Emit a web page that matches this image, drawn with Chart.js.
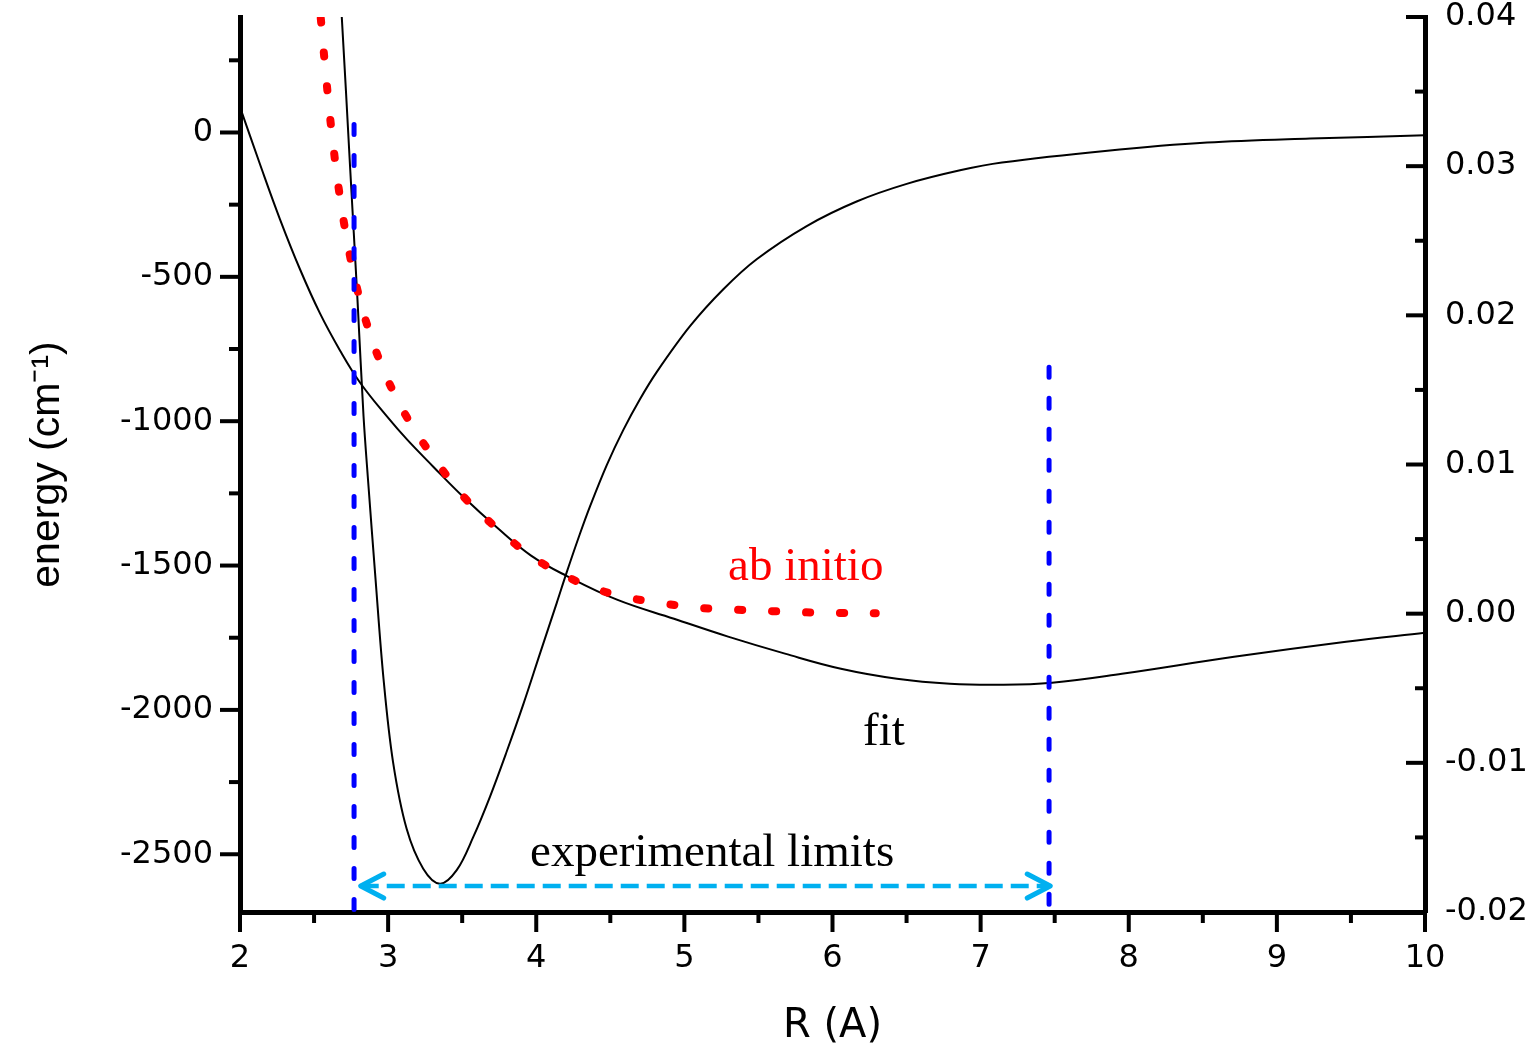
<!DOCTYPE html>
<html>
<head>
<meta charset="utf-8">
<script src="https://cdn.jsdelivr.net/npm/chart.js@4.4.0/dist/chart.umd.min.js"></script>
<style>
    html, body { margin: 0; padding: 0; background: #fff; }
    canvas { display: block; }
</style>
</head>
<body>
<canvas id="grafico-energia" width="1536" height="1048"></canvas>
<script>
// curva "fit" (poco profundo), eixo da esquerda, cm-1
const rAjuste = [2.672, 2.687, 2.743, 2.793, 2.834, 2.864, 2.915, 2.969, 3.033, 3.125, 3.237, 3.350, 3.463, 3.575, 3.688, 3.800, 3.913, 4.025, 4.138, 4.206, 4.295, 4.363, 4.476, 4.588, 4.700, 4.813, 5.038, 5.263, 5.488, 5.826, 6.163, 6.501, 6.861, 7.144, 7.840, 8.529, 9.224, 10.0];
const eAjuste = [495, 401, -118, -578, -983, -1201, -1547, -1893, -2180, -2412, -2550, -2602, -2555, -2440, -2300, -2145, -1980, -1805, -1630, -1523, -1390, -1295, -1152, -1030, -924, -830, -671, -543, -439, -324, -239, -178, -131, -104, -64, -35, -21, -10];

// segunda curva preta, eixo da direita
const rSegunda = [2.000, 2.135, 2.270, 2.405, 2.540, 2.675, 2.810, 2.992, 3.127, 3.303, 3.505, 3.735, 3.965, 4.201, 4.545, 4.930, 5.295, 5.679, 6.057, 6.435, 6.793, 7.131, 7.482, 7.954, 8.711, 9.467, 10.0];
const vSegunda = [0.03396, 0.03013, 0.02644, 0.02309, 0.02013, 0.01765, 0.01550, 0.01322, 0.01168, 0.00987, 0.00785, 0.00577, 0.00389, 0.00255, 0.00094, -0.00034, -0.00154, -0.00268, -0.00369, -0.00436, -0.00470, -0.00477, -0.00463, -0.00403, -0.00289, -0.00188, -0.00128];

// ab initio (pontilhado vermelho)
const rAbInitio = [2.535, 2.545, 2.564, 2.586, 2.609, 2.635, 2.665, 2.700, 2.742, 2.793, 2.855, 2.935, 3.038, 3.166, 3.323, 3.503, 3.733, 3.963, 4.194, 4.422, 4.651, 4.881, 5.119, 5.355, 5.586, 5.814, 6.049, 6.292];
const eAbInitio = [440, 397, 287, 166, 48, -69, -189, -307, -426, -546, -661, -780, -901, -1020, -1137, -1258, -1370, -1466, -1535, -1584, -1614, -1633, -1647, -1653, -1658, -1662, -1664, -1665];

// limites experimentais (linhas azuis verticais)
const rLimites = [2.77, 7.462];
const eTopoLimites = [28, -813];
const eBaseLimites = -2700;

// seta dupla
const rSeta = [2.815, 7.47];
const eSeta = [-2610, -2610];

// marcas dos eixos
const marcasX = [2, 3, 4, 5, 6, 7, 8, 9, 10];
const marcasXMenores = [2.5, 3.5, 4.5, 5.5, 6.5, 7.5, 8.5, 9.5];
const marcasY = [0, -500, -1000, -1500, -2000, -2500];
const marcasYMenores = [250, -250, -750, -1250, -1750, -2250];
const marcasY2 = [-0.02, -0.01, 0.00, 0.01, 0.02, 0.03, 0.04];
const marcasY2Menores = [-0.015, -0.005, 0.005, 0.015, 0.025, 0.035];

const rotulos = [
    { texto: 'ab initio', r: 5.295, e: -1550, cor: '#ff0000' },
    { texto: 'fit', r: 6.206, e: -2121, cor: '#000000' },
    { texto: 'experimental limits', r: 3.958, e: -2540, cor: '#000000' }
];

const paraPontos = (xs, ys) => xs.map((x, i) => ({ x: x, y: ys[i] }));

const fonteMarcas = { family: 'DejaVu Sans', size: 32 };

const pluginMarcas = {
    id: 'marcasEixos',
    afterDatasetsDraw(chart) {
        const { ctx, scales } = chart;
        ctx.save();
        rotulos.forEach(rotulo => {
            ctx.font = '47px "Liberation Serif"';
            ctx.fillStyle = rotulo.cor;
            ctx.textAlign = 'left';
            ctx.textBaseline = 'alphabetic';
            ctx.fillText(rotulo.texto, scales.x.getPixelForValue(rotulo.r), scales.y.getPixelForValue(rotulo.e));
        });

        // pontas da seta
        const meta = chart.getDatasetMeta(0);
        const inicio = meta.data[0];
        const fim = meta.data[meta.data.length - 1];
        ctx.strokeStyle = '#00b0f0';
        ctx.lineWidth = 5;
        ctx.lineCap = 'round';
        ctx.lineJoin = 'round';
        ctx.beginPath();
        ctx.moveTo(inicio.x + 23, inicio.y - 12);
        ctx.lineTo(inicio.x, inicio.y);
        ctx.lineTo(inicio.x + 23, inicio.y + 12);
        ctx.moveTo(fim.x - 23, fim.y - 12);
        ctx.lineTo(fim.x, fim.y);
        ctx.lineTo(fim.x - 23, fim.y + 12);
        ctx.stroke();
        ctx.restore();
    },
    afterDraw(chart) {
        const { ctx, chartArea: area, scales } = chart;
        ctx.save();
        ctx.strokeStyle = '#000';
        ctx.lineWidth = 4;
        ctx.lineCap = 'butt';
        const tracar = (x1, y1, x2, y2) => {
            ctx.beginPath();
            ctx.moveTo(x1, y1);
            ctx.lineTo(x2, y2);
            ctx.stroke();
        };
        marcasX.forEach(v => { const p = scales.x.getPixelForValue(v); tracar(p, area.bottom, p, area.bottom + 20); });
        marcasXMenores.forEach(v => { const p = scales.x.getPixelForValue(v); tracar(p, area.bottom, p, area.bottom + 11); });
        marcasY.forEach(v => { const p = scales.y.getPixelForValue(v); tracar(area.left, p, area.left - 20, p); });
        marcasYMenores.forEach(v => { const p = scales.y.getPixelForValue(v); tracar(area.left, p, area.left - 11, p); });
        marcasY2.forEach(v => { const p = scales.y2.getPixelForValue(v); tracar(area.right, p, area.right - 19, p); });
        marcasY2Menores.forEach(v => { const p = scales.y2.getPixelForValue(v); tracar(area.right, p, area.right - 10, p); });
        ctx.restore();
    }
};

const ctxEnergia = document.getElementById('grafico-energia').getContext('2d');

const graficoEnergia = new Chart(ctxEnergia, {
    type: 'line',
    data: {
        datasets: [{
            label: 'limites',
            data: paraPontos(rSeta, eSeta),
            borderColor: '#00b0f0',
            borderWidth: 4.5,
            borderDash: [18, 8],
            pointRadius: 0,
            yAxisID: 'y'
        }, {
            label: 'limite inferior',
            data: paraPontos([rLimites[0], rLimites[0]], [eTopoLimites[0], eBaseLimites]),
            borderColor: '#0000ff',
            borderWidth: 5,
            borderDash: [10, 21],
            borderCapStyle: 'round',
            pointRadius: 0,
            yAxisID: 'y'
        }, {
            label: 'limite superior',
            data: paraPontos([rLimites[1], rLimites[1]], [eTopoLimites[1], eBaseLimites]),
            borderColor: '#0000ff',
            borderWidth: 5,
            borderDash: [10, 21],
            borderCapStyle: 'round',
            pointRadius: 0,
            yAxisID: 'y'
        }, {
            label: 'ab initio',
            data: paraPontos(rAbInitio, eAbInitio),
            borderColor: '#ff0000',
            borderWidth: 8,
            borderDash: [4, 30],
            borderDashOffset: 21,
            borderCapStyle: 'round',
            tension: 0.4,
            pointRadius: 0,
            yAxisID: 'y'
        }, {
            label: 'fit',
            data: paraPontos(rAjuste, eAjuste),
            borderColor: '#000000',
            borderWidth: 2,
            tension: 0.35,
            pointRadius: 0,
            yAxisID: 'y'
        }, {
            label: 'segunda curva',
            data: paraPontos(rSegunda, vSegunda),
            borderColor: '#000000',
            borderWidth: 2,
            tension: 0.4,
            pointRadius: 0,
            yAxisID: 'y2'
        }]
    },
    options: {
        responsive: false,
        animation: false,
        devicePixelRatio: 1,
        layout: { padding: { top: 17, left: 0, right: 0, bottom: 0 } },
        plugins: {
            legend: { display: false },
            tooltip: { enabled: false }
        },
        scales: {
            x: {
                type: 'linear',
                position: 'bottom',
                min: 2,
                max: 10,
                afterBuildTicks: escala => { escala.ticks = marcasX.map(v => ({ value: v })); },
                afterFit: escala => { escala.height = 136; escala.paddingLeft = 0; escala.paddingRight = 0; },
                grid: { display: false, drawTicks: false },
                border: { display: true, width: 5, color: '#000' },
                ticks: { font: fonteMarcas, color: '#000', padding: 27, maxRotation: 0, autoSkip: false, callback: v => String(v) },
                title: { display: true, text: 'R (A)', color: '#000', font: { family: 'DejaVu Sans', size: 40, lineHeight: 1.05 }, padding: { top: 0, bottom: 0 } }
            },
            y: {
                type: 'linear',
                position: 'left',
                min: -2700,
                max: 400,
                afterBuildTicks: escala => { escala.ticks = marcasY.map(v => ({ value: v })); },
                afterFit: escala => { escala.width = 240; escala.paddingTop = 0; escala.paddingBottom = 0; },
                grid: { display: false, drawTicks: false },
                border: { display: true, width: 5, color: '#000' },
                ticks: { font: fonteMarcas, color: '#000', padding: 27, autoSkip: false, callback: v => String(v) },
                title: { display: true, text: 'energy (cm\u207B\u00B9)', color: '#000', font: { family: 'Liberation Sans', size: 41 }, padding: { top: 23, bottom: 0 } }
            },
            y2: {
                type: 'linear',
                position: 'right',
                min: -0.02,
                max: 0.04,
                afterBuildTicks: escala => { escala.ticks = marcasY2.map(v => ({ value: v })); },
                afterFit: escala => { escala.width = 111; escala.paddingTop = 0; escala.paddingBottom = 0; },
                grid: { display: false, drawTicks: false },
                border: { display: true, width: 5, color: '#000' },
                ticks: { font: fonteMarcas, color: '#000', padding: 20, autoSkip: false, callback: v => Number(v).toFixed(2) }
            }
        }
    },
    plugins: [pluginMarcas]
});
</script>
</body>
</html>
